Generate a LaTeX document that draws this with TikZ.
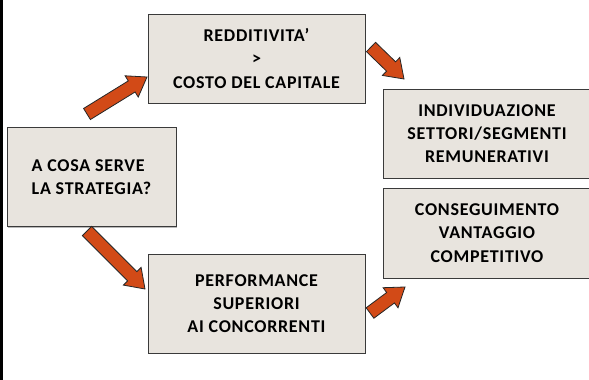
\documentclass[tikz,border=0pt]{standalone}
\usepackage{fontspec}
\setmainfont{Carlito}[LetterSpace=4]
\usetikzlibrary{calc,shadows}
\definecolor{boxfill}{HTML}{E8E4DE}
\definecolor{boxline}{HTML}{3A3A3A}
\definecolor{arrfill}{HTML}{D24A17}
\tikzset{
  box/.style={rectangle, fill=boxfill, draw=boxline, line width=1pt, inner sep=0pt,
    font=\fontsize{18}{23.3}\selectfont\bfseries, align=center,
    drop shadow={shadow xshift=1.2pt, shadow yshift=-1.2pt, fill=black!45, opacity=0.6}},
  barrow/.style={fill=arrfill, draw=black!85, line width=0.8pt, line join=miter},
}
\newcommand\blockarr[2]{%
  \coordinate (hb) at ($(#2)!18pt!(#1)$);
  \draw[barrow] ($(#1)!6.5pt!90:(#2)$) -- ($(hb)!6.5pt!-90:(#1)$) -- ($(hb)!12.5pt!-90:(#1)$) -- (#2)
    -- ($(hb)!12.5pt!90:(#1)$) -- ($(hb)!6.5pt!90:(#1)$) -- ($(#1)!6.5pt!-90:(#2)$) -- cycle;}
\begin{document}
\begin{tikzpicture}[x=1pt,y=-1pt]
\useasboundingbox (0,0) rectangle (589,380);
\fill[white] (0,0) rectangle (589,380);
\fill[black] (0,0) rectangle (2.6,380);
\node[box, minimum width=169pt, minimum height=99pt, align=left] (q) at (91.5,177) {A COSA SERVE\\LA STRATEGIA?};
\node[box, minimum width=217pt, minimum height=89pt] (r) at (256.5,58.5) {REDDITIVITA’\\>\\COSTO DEL CAPITALE};
\node[box, minimum width=208pt, minimum height=89pt] (i) at (487,133.5) {INDIVIDUAZIONE\\SETTORI/SEGMENTI\\REMUNERATIVI};
\node[box, minimum width=208pt, minimum height=90pt] (c) at (487,233) {CONSEGUIMENTO\\VANTAGGIO\\COMPETITIVO};
\node[box, minimum width=217pt, minimum height=99pt] (p) at (256.5,303.5) {PERFORMANCE\\SUPERIORI\\AI CONCORRENTI};
\coordinate (t1) at (87,114);  \coordinate (e1) at (147,77);
\coordinate (t2) at (371,47);  \coordinate (e2) at (404,79);
\coordinate (t3) at (87,231);  \coordinate (e3) at (145,289);
\coordinate (t4) at (370,313); \coordinate (e4) at (405,287);
\blockarr{t1}{e1}
\blockarr{t2}{e2}
\blockarr{t3}{e3}
\blockarr{t4}{e4}
\end{tikzpicture}
\end{document}
